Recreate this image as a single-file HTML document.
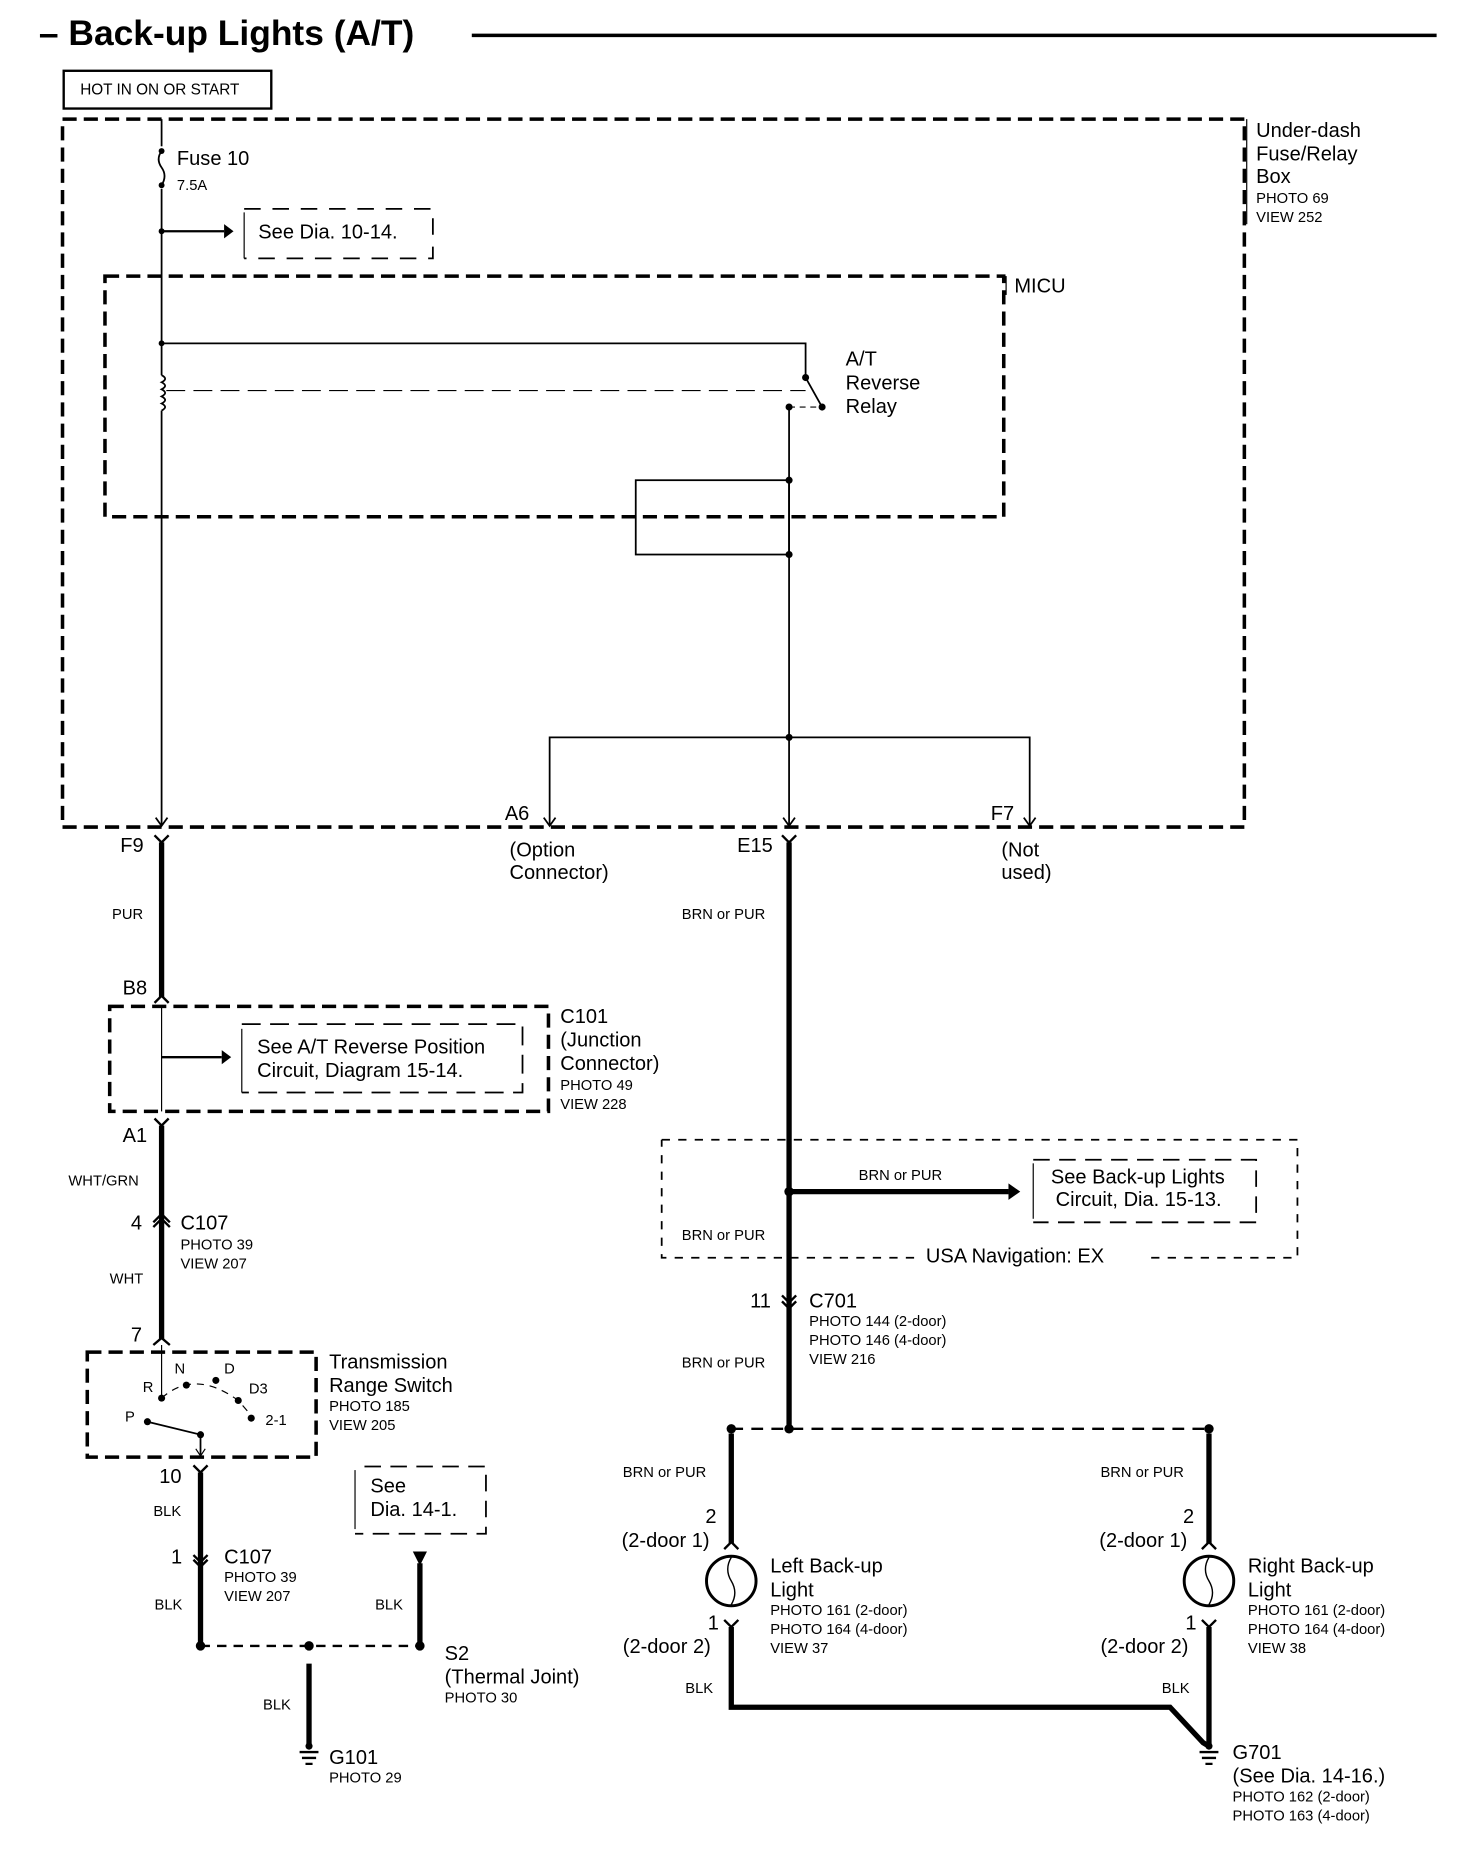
<!DOCTYPE html>
<html><head><meta charset="utf-8"><style>
html,body{margin:0;padding:0;background:#fff}
svg{display:block}
text{font-family:"Liberation Sans",sans-serif;fill:#000}
.m{font-size:17px}
.s{font-size:12.5px}
</style></head><body>
<svg width="1472" height="1850" viewBox="0 0 1248 1568" preserveAspectRatio="none" xmlns="http://www.w3.org/2000/svg">
<g fill="none" stroke="#000">
<line x1="400" y1="30" x2="1218" y2="30" stroke-width="3"/>
<rect x="54" y="60" width="176" height="32" stroke-width="2"/>
<rect x="53" y="101" width="1002" height="600" stroke-width="3" stroke-dasharray="12,6"/>
<line x1="1057" y1="101" x2="1057" y2="190" stroke-width="1"/>
<line x1="137" y1="101" x2="137" y2="124" stroke-width="1.5"/>
<path d="M137 128 q-5 7 0 14 q5 7 0 15" stroke-width="1.5"/>
<line x1="137" y1="160" x2="137" y2="318" stroke-width="1.5"/>
<path d="M137 318 q6 3 0 6 q6 3 0 6 q6 3 0 6 q6 3 0 6 q6 3 0 6" stroke-width="1.5"/>
<line x1="137" y1="348" x2="137" y2="700" stroke-width="1.5"/>
<line x1="137" y1="196" x2="190" y2="196" stroke-width="2"/>
<path d="M207 177 L367 177 L367 219 L207 219" stroke-width="1.5" stroke-dasharray="14,10"/>
<line x1="207" y1="180" x2="207" y2="219" stroke-width="1"/>
<rect x="89" y="234" width="762" height="204" stroke-width="3" stroke-dasharray="12,6"/>
<line x1="853" y1="234" x2="853" y2="250" stroke-width="1"/>
<path d="M137 291 L683 291 L683 320 L697 345" stroke-width="1.5"/>
<line x1="141" y1="331" x2="683" y2="331" stroke-width="1" stroke-dasharray="16,7"/>
<line x1="669" y1="345" x2="697" y2="345" stroke-width="1" stroke-dasharray="5,4"/>
<line x1="669" y1="345" x2="669" y2="700" stroke-width="1.5"/>
<rect x="539" y="407" width="130" height="63" stroke-width="1.5"/>
<path d="M466 700 L466 625 L873 625 L873 700" stroke-width="1.5"/>
<path d="M461 693 L466 700 L471 693 M664 693 L669 700 L674 693 M868 693 L873 700 L878 693 M132 693 L137 700 L142 693" stroke-width="1.5"/>
<path d="M131 708 L137 714 L143 708 M131 850 L137 844 L143 850 M131 948 L137 954 L143 948 M130 1040 L137 1033 L144 1040 M130 1036 L137 1029 L144 1036 M130 1140 L137 1134 L144 1140 M164 1242 L170 1248 L176 1242 M164 1318 L170 1324 L176 1318 M164 1322 L170 1328 L176 1322 M663 708 L669 714 L675 708 M663 1098 L669 1104 L675 1098 M663 1103 L669 1109 L675 1103 M614 1313 L620 1307 L626 1313 M614 1373 L620 1379 L626 1373 M1019 1313 L1025 1307 L1031 1313 M1019 1373 L1025 1379 L1031 1373" stroke-width="2"/>
<g stroke-width="4.5">
<line x1="137" y1="714" x2="137" y2="845"/>
<line x1="137" y1="954" x2="137" y2="1135"/>
<line x1="170" y1="1248" x2="170" y2="1395"/>
<line x1="356" y1="1325" x2="356" y2="1395"/>
<line x1="262" y1="1410" x2="262" y2="1480"/>
<line x1="669" y1="714" x2="669" y2="1210"/>
<line x1="669" y1="1010" x2="855" y2="1010"/>
<line x1="620" y1="1215" x2="620" y2="1308"/>
<line x1="1025" y1="1215" x2="1025" y2="1308"/>
<path d="M620 1379 L620 1447 L992 1447 L1020 1477 L1025 1480"/>
<line x1="1025" y1="1379" x2="1025" y2="1480"/>
</g>
<rect x="93" y="853" width="372" height="89" stroke-width="3" stroke-dasharray="12,6"/>
<line x1="137" y1="853" x2="137" y2="942" stroke-width="1"/>
<line x1="137" y1="896" x2="188" y2="896" stroke-width="2"/>
<path d="M205 868 L443 868 L443 926 L205 926" stroke-width="1.5" stroke-dasharray="16,8"/>
<line x1="205" y1="872" x2="205" y2="926" stroke-width="1"/>
<rect x="74" y="1146" width="194" height="89" stroke-width="3" stroke-dasharray="12,6"/>
<line x1="137" y1="1140" x2="137" y2="1185" stroke-width="1"/>
<path d="M137 1185 Q165 1160 202 1187 L215 1202" stroke-width="1" stroke-dasharray="6,5"/>
<path d="M125 1205 L170 1216 L170 1233" stroke-width="1.5"/>
<path d="M166 1228 L170 1234 L174 1228" stroke-width="1"/>
<path d="M309 1243 L412 1243 L412 1300 L301 1300" stroke-width="1.5" stroke-dasharray="14,8"/>
<line x1="301" y1="1246" x2="301" y2="1296" stroke-width="1"/>
<line x1="170" y1="1395" x2="356" y2="1395" stroke-width="2" stroke-dasharray="8,6"/>
<path d="M254 1485 L270 1485 M256 1490 L268 1490 M259 1495 L265 1495" stroke-width="2"/>
<path d="M561 966 L1100 966 L1100 1066 L975 1066 M775 1066 L561 1066 L561 966" stroke-width="1.5" stroke-dasharray="7,7"/>
<path d="M876 983 L1065 983 L1065 1036 L876 1036" stroke-width="1.5" stroke-dasharray="14,8"/>
<line x1="876" y1="986" x2="876" y2="1033" stroke-width="1"/>
<line x1="620" y1="1211" x2="1025" y2="1211" stroke-width="2" stroke-dasharray="10,7"/>
<circle cx="620" cy="1340" r="21" stroke-width="2.5"/>
<circle cx="1025" cy="1340" r="21" stroke-width="2.5"/>
<path d="M620 1320 q-6 10 0 20 q6 10 0 20 M1025 1320 q-6 10 0 20 q6 10 0 20" stroke-width="1.2"/>
<path d="M1017 1485 L1033 1485 M1019 1490 L1031 1490 M1022 1495 L1028 1495" stroke-width="2"/>
</g>
<g fill="#000">
<circle cx="137" cy="128" r="2.5"/><circle cx="137" cy="157" r="2.5"/>
<circle cx="137" cy="196" r="2.5"/><circle cx="137" cy="291" r="2.5"/>
<circle cx="683" cy="320" r="3"/><circle cx="697" cy="345" r="3"/><circle cx="669" cy="345" r="3"/>
<circle cx="669" cy="407" r="3"/><circle cx="669" cy="470" r="3"/><circle cx="669" cy="625" r="3"/>
<polygon points="190,190 198,196 190,202"/>
<polygon points="188,890 196,896 188,902"/>
<polygon points="855,1003 865,1010 855,1017"/>
<circle cx="669" cy="1010" r="4"/>
<circle cx="137" cy="1185" r="3"/><circle cx="158" cy="1174" r="3"/><circle cx="183" cy="1170" r="3"/><circle cx="202" cy="1187" r="3"/><circle cx="213" cy="1202" r="3"/><circle cx="125" cy="1205" r="3"/><circle cx="170" cy="1216" r="3"/>
<circle cx="170" cy="1395" r="4"/><circle cx="262" cy="1395" r="4"/><circle cx="356" cy="1395" r="4"/>
<polygon points="350,1315 362,1315 356,1327"/>
<circle cx="262" cy="1480" r="3"/>
<circle cx="620" cy="1211" r="4"/><circle cx="669" cy="1211" r="4"/><circle cx="1025" cy="1211" r="4"/>
<circle cx="1025" cy="1480" r="3"/>
</g>
<text x="33" y="38" style="font-size:30px;font-weight:bold">– Back-up Lights (A/T)</text>
<text x="68" y="80" style="font-size:13px">HOT IN ON OR START</text>
<text class="m" x="1065" y="116">Under-dash</text>
<text class="m" x="1065" y="136">Fuse/Relay</text>
<text class="m" x="1065" y="155">Box</text>
<text class="s" x="1065" y="172">PHOTO 69</text>
<text class="s" x="1065" y="188">VIEW 252</text>
<text class="m" x="150" y="140">Fuse 10</text>
<text class="s" x="150" y="161">7.5A</text>
<text class="m" x="219" y="202">See Dia. 10-14.</text>
<text class="m" x="860" y="248">MICU</text>
<text class="m" x="717" y="310">A/T</text>
<text class="m" x="717" y="330">Reverse</text>
<text class="m" x="717" y="350">Relay</text>
<text class="m" x="428" y="695">A6</text>
<text class="m" x="840" y="695">F7</text>
<text class="m" x="102" y="722">F9</text>
<text class="m" x="625" y="722">E15</text>
<text class="m" x="432" y="726">(Option</text>
<text class="m" x="432" y="745">Connector)</text>
<text class="m" x="849" y="726">(Not</text>
<text class="m" x="849" y="745">used)</text>
<text class="s" x="95" y="779">PUR</text>
<text class="s" x="578" y="779">BRN or PUR</text>
<text class="m" x="104" y="843">B8</text>
<text class="m" x="218" y="893">See A/T Reverse Position</text>
<text class="m" x="218" y="913">Circuit, Diagram 15-14.</text>
<text class="m" x="475" y="867">C101</text>
<text class="m" x="475" y="887">(Junction</text>
<text class="m" x="475" y="907">Connector)</text>
<text class="s" x="475" y="924">PHOTO 49</text>
<text class="s" x="475" y="940">VIEW 228</text>
<text class="m" x="104" y="968">A1</text>
<text class="s" x="58" y="1005">WHT/GRN</text>
<text class="m" x="111" y="1042">4</text>
<text class="m" x="153" y="1042">C107</text>
<text class="s" x="153" y="1059">PHOTO 39</text>
<text class="s" x="153" y="1075">VIEW 207</text>
<text class="s" x="93" y="1088">WHT</text>
<text class="m" x="111" y="1137">7</text>
<text class="m" x="279" y="1160">Transmission</text>
<text class="m" x="279" y="1180">Range Switch</text>
<text class="s" x="279" y="1196">PHOTO 185</text>
<text class="s" x="279" y="1212">VIEW 205</text>
<text class="s" x="148" y="1164">N</text>
<text class="s" x="190" y="1164">D</text>
<text class="s" x="121" y="1180">R</text>
<text class="s" x="211" y="1181">D3</text>
<text class="s" x="106" y="1205">P</text>
<text class="s" x="225" y="1208">2-1</text>
<text class="m" x="135" y="1257">10</text>
<text class="s" x="130" y="1285">BLK</text>
<text class="m" x="314" y="1265">See</text>
<text class="m" x="314" y="1285">Dia. 14-1.</text>
<text class="m" x="145" y="1325">1</text>
<text class="m" x="190" y="1325">C107</text>
<text class="s" x="190" y="1341">PHOTO 39</text>
<text class="s" x="190" y="1357">VIEW 207</text>
<text class="s" x="131" y="1364">BLK</text>
<text class="s" x="318" y="1364">BLK</text>
<text class="m" x="377" y="1407">S2</text>
<text class="m" x="377" y="1427">(Thermal Joint)</text>
<text class="s" x="377" y="1443">PHOTO 30</text>
<text class="s" x="223" y="1449">BLK</text>
<text class="m" x="279" y="1495">G101</text>
<text class="s" x="279" y="1511">PHOTO 29</text>
<text class="s" x="728" y="1000">BRN or PUR</text>
<text class="m" x="891" y="1003">See Back-up Lights</text>
<text class="m" x="895" y="1022">Circuit, Dia. 15-13.</text>
<text class="s" x="578" y="1051">BRN or PUR</text>
<text class="m" x="785" y="1070">USA Navigation: EX</text>
<text class="m" x="636" y="1108">11</text>
<text class="m" x="686" y="1108">C701</text>
<text class="s" x="686" y="1124">PHOTO 144 (2-door)</text>
<text class="s" x="686" y="1140">PHOTO 146 (4-door)</text>
<text class="s" x="686" y="1156">VIEW 216</text>
<text class="s" x="578" y="1159">BRN or PUR</text>
<text class="s" x="528" y="1252">BRN or PUR</text>
<text class="s" x="933" y="1252">BRN or PUR</text>
<text class="m" x="598" y="1291">2</text>
<text class="m" x="527" y="1311">(2-door 1)</text>
<text class="m" x="1003" y="1291">2</text>
<text class="m" x="932" y="1311">(2-door 1)</text>
<text class="m" x="653" y="1333">Left Back-up</text>
<text class="m" x="653" y="1353">Light</text>
<text class="s" x="653" y="1369">PHOTO 161 (2-door)</text>
<text class="s" x="653" y="1385">PHOTO 164 (4-door)</text>
<text class="s" x="653" y="1401">VIEW 37</text>
<text class="m" x="1058" y="1333">Right Back-up</text>
<text class="m" x="1058" y="1353">Light</text>
<text class="s" x="1058" y="1369">PHOTO 161 (2-door)</text>
<text class="s" x="1058" y="1385">PHOTO 164 (4-door)</text>
<text class="s" x="1058" y="1401">VIEW 38</text>
<text class="m" x="600" y="1381">1</text>
<text class="m" x="528" y="1401">(2-door 2)</text>
<text class="m" x="1005" y="1381">1</text>
<text class="m" x="933" y="1401">(2-door 2)</text>
<text class="s" x="581" y="1435">BLK</text>
<text class="s" x="985" y="1435">BLK</text>
<text class="m" x="1045" y="1491">G701</text>
<text class="m" x="1045" y="1511">(See Dia. 14-16.)</text>
<text class="s" x="1045" y="1527">PHOTO 162 (2-door)</text>
<text class="s" x="1045" y="1543">PHOTO 163 (4-door)</text>
</svg>
</body></html>
